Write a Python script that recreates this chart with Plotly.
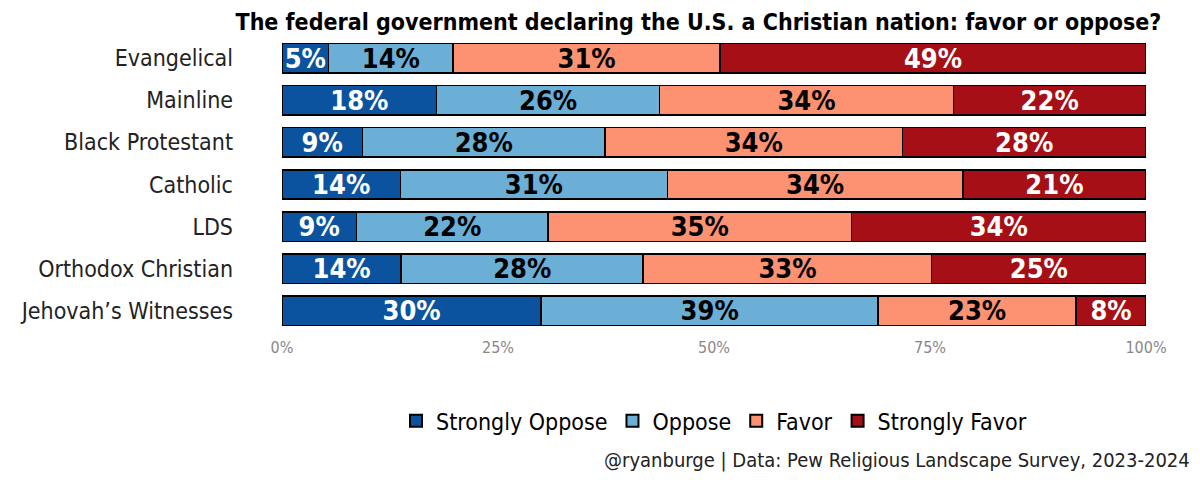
import plotly.graph_objects as go

groups = ["Evangelical", "Mainline", "Black Protestant", "Catholic", "LDS",
          "Orthodox Christian", "Jehovah\u2019s Witnesses"]
strongly_oppose = [5.4, 17.9, 9.3, 13.7, 8.6, 13.8, 30.0]
oppose = [14.4, 25.8, 28.1, 30.9, 22.2, 28.0, 39.0]
favor = [30.9, 34.0, 34.4, 34.2, 35.1, 33.4, 22.9]
strongly_favor = [49.3, 22.3, 28.2, 21.2, 34.1, 24.8, 8.1]

series = [
    ("Strongly Oppose", strongly_oppose, "#0B539F", "white"),
    ("Oppose", oppose, "#6BAED6", "black"),
    ("Favor", favor, "#FC9272", "black"),
    ("Strongly Favor", strongly_favor, "#A50F15", "white"),
]

FONT = "'Liberation Sans Narrow', 'DejaVu Sans Condensed', 'Roboto', sans-serif"

fig = go.Figure()
for name, vals, color, tcolor in series:
    fig.add_trace(go.Bar(
        y=groups, x=vals, name=name, orientation="h",
        marker=dict(color=color, line=dict(color="black", width=1.5)),
        width=0.7,
        text=[f"{round(v)}%" for v in vals],
        textposition="inside", insidetextanchor="middle",
        textfont=dict(color=tcolor, size=27, family=FONT, weight="bold"),
        hoverinfo="skip",
    ))

fig.update_layout(
    width=1200, height=480,
    barmode="stack",
    plot_bgcolor="white", paper_bgcolor="white",
    margin=dict(l=282, r=54, t=33, b=144),
    font=dict(family=FONT, color="black"),
    uniformtext=dict(minsize=27, mode="show"),
    title=dict(text="<b>The federal government declaring the U.S. a Christian nation: favor or oppose?</b>",
               x=0.482, xref="paper", xanchor="center", y=0.955, yanchor="middle",
               font=dict(size=23, color="black", family=FONT)),
    xaxis=dict(range=[0, 100], tickvals=[0, 25, 50, 75, 100],
               ticktext=["0%", "25%", "50%", "75%", "100%"],
               showgrid=False, zeroline=False, showline=False,
               tickfont=dict(size=16, color="#888888"), ticks=""),
    yaxis=dict(categoryorder="array", categoryarray=groups, autorange=False,
               range=[6.6, -0.6], showgrid=False, zeroline=False, ticks="",
               tickfont=dict(size=23, color="#222222"), ticklabelstandoff=48),
    legend=dict(orientation="h", x=0.5, xanchor="center", y=-0.28, yanchor="middle",
                font=dict(size=23, color="black"), traceorder="normal",
                itemsizing="constant"),
    showlegend=True,
)
fig.add_annotation(text="@ryanburge | Data: Pew Religious Landscape Survey, 2023-2024",
                   xref="paper", yref="paper", x=1.053, y=-0.41,
                   xanchor="right", yanchor="middle", showarrow=False,
                   font=dict(size=20, color="#222222"))

fig.write_html("out.html")
